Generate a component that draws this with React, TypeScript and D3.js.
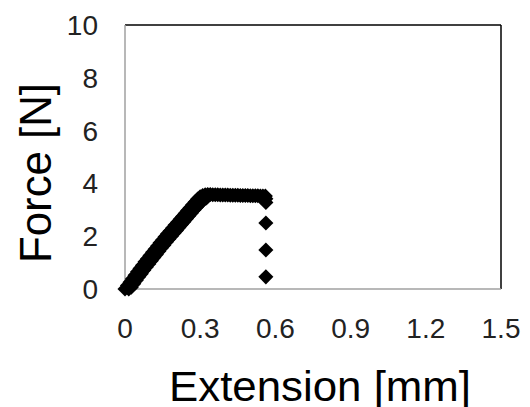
import React from "react";
import * as d3 from "d3";

const extension: number[] = [
  0.0, 0.01, 0.02, 0.03, 0.04, 0.05, 0.06, 0.07, 0.08, 0.09, 0.1, 0.11, 0.12, 0.13, 0.14, 0.15,
  0.16, 0.17, 0.18, 0.19, 0.2, 0.21, 0.22, 0.23, 0.24, 0.25, 0.26, 0.27, 0.28, 0.29, 0.3, 0.31,
  0.32, 0.33, 0.34, 0.35, 0.36, 0.37, 0.38, 0.39, 0.4, 0.41, 0.42, 0.43, 0.44, 0.45, 0.46, 0.47,
  0.48, 0.49, 0.5, 0.51, 0.52, 0.53, 0.54, 0.55, 0.56, 0.562, 0.562, 0.562, 0.562, 0.562,
  0.015, 0.025, 0.035, 0.045, 0.055, 0.065, 0.075, 0.085, 0.095, 0.105, 0.115, 0.125, 0.135,
  0.145, 0.155, 0.165, 0.175, 0.185, 0.195, 0.205, 0.215, 0.225, 0.235, 0.245, 0.255, 0.265,
  0.275, 0.285, 0.295, 0.305, 0.315, 0.325,
];
const force: number[] = [
  0.0, 0.13, 0.26, 0.39, 0.52, 0.65, 0.78, 0.9, 1.03, 1.15, 1.27, 1.39, 1.51, 1.63, 1.75, 1.86,
  1.98, 2.09, 2.2, 2.31, 2.42, 2.53, 2.64, 2.75, 2.86, 2.97, 3.08, 3.19, 3.3, 3.41, 3.49, 3.54,
  3.57, 3.58, 3.58, 3.57, 3.57, 3.57, 3.56, 3.56, 3.56, 3.56, 3.55, 3.55, 3.55, 3.55, 3.54, 3.54,
  3.54, 3.54, 3.53, 3.53, 3.53, 3.53, 3.52, 3.52, 3.52, 3.42, 3.28, 2.5, 1.48, 0.46,
  0.0, 0.07, 0.2, 0.33, 0.46, 0.58, 0.71, 0.83, 0.95, 1.07, 1.19, 1.31, 1.43,
  1.55, 1.66, 1.78, 1.89, 2.0, 2.11, 2.22, 2.33, 2.44, 2.55, 2.66, 2.77, 2.88,
  2.99, 3.1, 3.2, 3.3, 3.39, 3.45,
];
const xTicks: number[] = [0, 0.3, 0.6, 0.9, 1.2, 1.5];
const yTicks: number[] = [0, 2, 4, 6, 8, 10];

export default function App() {
  const left = 125, right = 501, top = 25, bottom = 289;
  const x = d3.scaleLinear().domain([0, 1.5]).range([left, right]);
  const y = d3.scaleLinear().domain([0, 10]).range([bottom, top]);
  const diamond = d3.symbol().type(d3.symbolDiamond2).size(145)();
  const font = "'Liberation Sans', Arial, sans-serif";
  return (
    <svg width={530} height={407} style={{ position: "absolute", left: 0, top: 0, background: "#fff" }}>
      <line x1={left} x2={right} y1={top} y2={top} stroke="#000" strokeWidth={1.5} />
      <line x1={right} x2={right} y1={top} y2={bottom} stroke="#000" strokeWidth={1.5} />
      <line x1={left} x2={left} y1={top} y2={bottom} stroke="#a0a0a0" strokeWidth={1.5} />
      <line x1={left} x2={right} y1={bottom} y2={bottom} stroke="#a0a0a0" strokeWidth={1.5} />
      {yTicks.map((t) => (
        <text key={"y" + t} x={98} y={y(t)} dy="0.36em" textAnchor="end" fontFamily={font} fontSize={28} fill="#222">
          {t}
        </text>
      ))}
      {xTicks.map((t) => (
        <text key={"x" + t} x={x(t)} y={338} textAnchor="middle" fontFamily={font} fontSize={28} fill="#222">
          {t}
        </text>
      ))}
      {extension.map((e, i) => (
        <path key={i} d={diamond} transform={`translate(${x(e)},${y(force[i])})`} fill="#000" />
      ))}
      <text x={320} y={401} textAnchor="middle" fontFamily={font} fontSize={43} textLength={302} lengthAdjust="spacingAndGlyphs" fill="#000">
        Extension [mm]
      </text>
      <text transform="translate(51,173) rotate(-90)" textAnchor="middle" fontFamily={font} fontSize={44} textLength={180} lengthAdjust="spacingAndGlyphs" fill="#000">
        Force [N]
      </text>
    </svg>
  );
}
